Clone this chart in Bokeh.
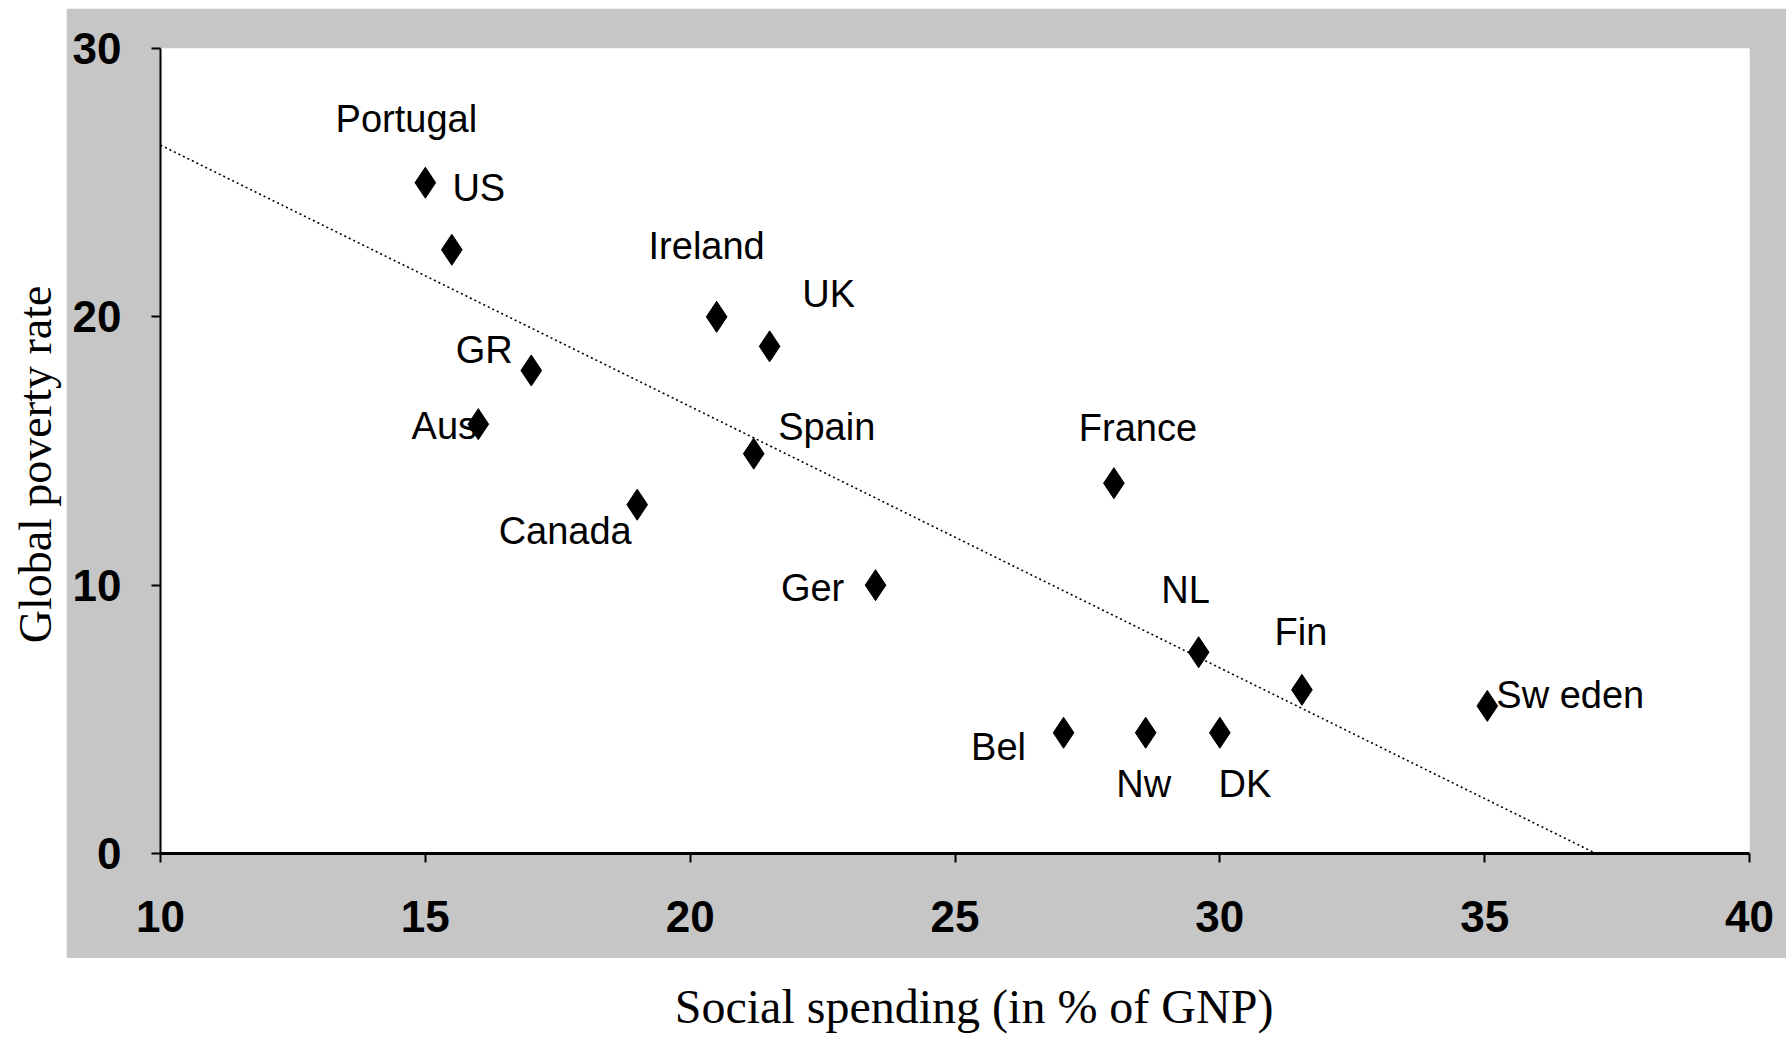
import math
from bokeh.plotting import figure
from bokeh.models import ColumnDataSource, Range1d, Label, FixedTicker, Spacer
from bokeh.layouts import row, column
from bokeh.embed import file_html
from bokeh.resources import INLINE
from bokeh.core.properties import value

# ---- data ----
countries = ["Portugal", "US", "GR", "Aus", "Canada", "Ireland", "UK", "Spain",
             "Ger", "France", "NL", "Fin", "Sw eden", "Bel", "Nw", "DK"]
social_spending = [15.0, 15.5, 17.0, 16.0, 19.0, 20.5, 21.5, 21.2,
                   23.5, 28.0, 29.6, 31.55, 35.05, 27.05, 28.6, 30.0]
poverty_rate = [25.0, 22.5, 18.0, 16.0, 13.0, 20.0, 18.9, 14.9,
                10.0, 13.8, 7.5, 6.1, 5.5, 4.5, 4.5, 4.5]
trend_x = [10.0, 37.1]
trend_y = [26.4, 0.0]
x_ticks = [10, 15, 20, 25, 30, 35, 40]
y_ticks = [0, 10, 20, 30]

# label placement (screen px offsets from each marker)
label_dx = [-19, 27, -47, -34, -72, -10, 59, 73, -63, 24, -13, -1, 83, -65, -2, 25]
label_dy = [-64, -62, -21, 2, 26, -71, -52, -27, 3, -55, -62, -58, -11, 14, 51, 51]

GRAY = "#c6c6c6"

src = ColumnDataSource(dict(x=social_spending, y=poverty_rate, name=countries,
                            dx=label_dx, dy=label_dy))

p = figure(width=1720, height=950, x_range=Range1d(10, 40), y_range=Range1d(0, 30),
           output_backend="svg", toolbar_location=None,
           min_border_left=94, min_border_right=37, min_border_top=40, min_border_bottom=105)
p.border_fill_color = GRAY
p.background_fill_color = "white"
p.outline_line_color = None
p.grid.visible = False

p.line(trend_x, trend_y, line_color="black", line_width=1.6, line_dash="2 3")
p.scatter(x="x", y="y", source=src, marker="diamond", size=31,
          fill_color="black", line_color="black")
p.text(x="x", y="y", text="name", x_offset="dx", y_offset="dy", source=src,
       text_align="center", text_baseline="middle",
       text_font=value("Liberation Sans"), text_font_size="38px", text_color="black")

p.xaxis.ticker = FixedTicker(ticks=x_ticks)
p.yaxis.ticker = FixedTicker(ticks=y_ticks)
for ax in (p.xaxis[0], p.yaxis[0]):
    ax.major_label_text_font = "Liberation Sans"
    ax.major_label_text_font_style = "bold"
    ax.major_label_text_font_size = "44px"
    ax.major_label_text_color = "black"
    ax.minor_tick_line_color = None
    ax.major_tick_in = 0
    ax.major_tick_line_color = "black"
    ax.major_tick_line_width = 2
    ax.axis_line_color = "black"
p.xaxis.axis_line_width = 3
p.xaxis.major_tick_out = 9
p.xaxis.major_label_standoff = 38
p.yaxis.axis_line_width = 2
p.yaxis.major_tick_out = 9
p.yaxis.major_label_standoff = 30
p.yaxis.major_label_orientation = "horizontal"

# serif axis titles outside the grey border
ylab = figure(width=58, height=950, x_range=Range1d(0, 1), y_range=Range1d(0, 1),
              output_backend="svg", toolbar_location=None,
              x_axis_type=None, y_axis_type=None, min_border=0)
ylab.outline_line_color = None
ylab.grid.visible = False
ylab.add_layout(Label(x=0.46, y=0.52, text="Global poverty rate", angle=math.pi / 2,
                      text_align="center", text_baseline="middle",
                      text_font="Liberation Serif", text_font_size="46px",
                      text_color="black"))

xlab = figure(width=1720, height=78, x_range=Range1d(0, 1), y_range=Range1d(0, 1),
              output_backend="svg", toolbar_location=None,
              x_axis_type=None, y_axis_type=None, min_border=0)
xlab.outline_line_color = None
xlab.grid.visible = False
xlab.add_layout(Label(x=0.512, y=0.38, text="Social spending (in % of GNP)",
                      text_align="center", text_baseline="middle",
                      text_font="Liberation Serif", text_font_size="48px",
                      text_color="black"))

layout = column(Spacer(height=8),
                row(Spacer(width=8), ylab, column(p, xlab)))
open("out.html", "w").write(file_html(layout, INLINE))
